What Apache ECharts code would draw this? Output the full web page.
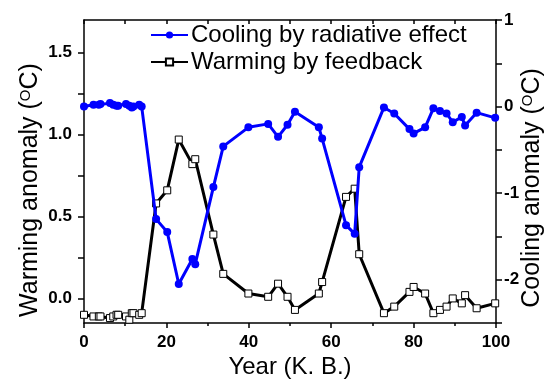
<!DOCTYPE html>
<html>
<head>
<meta charset="utf-8">
<script src="https://cdn.jsdelivr.net/npm/echarts@6/dist/echarts.min.js"></script>
<style>
  html, body { margin: 0; padding: 0; background: #fff; }
  #chart { width: 553px; height: 383px; }
</style>
</head>
<body>
<div id="chart"></div>
<script>
// shared x positions (K. B.)
const years = [0, 2.3, 3.6, 4.0, 6.3, 7.1, 7.9, 8.3, 10.2, 11.0, 11.6, 12.0, 13.4, 14.0,
  17.5, 20.2, 23.0, 26.3, 27.0, 31.4, 33.8, 39.9, 44.7, 47.1, 49.4, 51.2, 57.0, 57.8,
  63.6, 65.7, 66.8, 72.8, 75.3, 79.0, 80.0, 82.8, 84.8, 86.4, 88.0, 89.5, 91.7, 92.5, 95.3, 99.8];

// right axis
const cooling = [0.00, 0.02, 0.02, 0.03, 0.04, 0.02, 0.01, 0.01, 0.03, 0.01, -0.01, 0.00, 0.02, 0.00,
  -1.30, -1.45, -2.05, -1.76, -1.82, -0.93, -0.46, -0.24, -0.20, -0.35, -0.21, -0.06, -0.24, -0.37,
  -1.37, -1.47, -0.70, -0.01, -0.08, -0.26, -0.31, -0.24, -0.02, -0.05, -0.08, -0.18, -0.12, -0.22, -0.07, -0.13];

// left axis
const warming = [-0.10, -0.11, -0.11, -0.11, -0.12, -0.11, -0.10, -0.10, -0.11, -0.13, -0.09, -0.09, -0.10, -0.09,
  0.58, 0.66, 0.97, 0.82, 0.85, 0.39, 0.15, 0.03, 0.01, 0.09, 0.01, -0.07, 0.03, 0.10,
  0.62, 0.67, 0.27, -0.09, -0.05, 0.04, 0.07, 0.03, -0.09, -0.07, -0.05, 0.00, -0.03, 0.02, -0.06, -0.03];

const warmTicks = [0, 0.25, 0.5, 0.75, 1.0, 1.25, 1.5];
const warmLabels = [0, 0.5, 1.0, 1.5];
const coolTicks = [-2.5, -2, -1.5, -1, -0.5, 0, 0.5, 1];
const coolLabels = [-2, -1, 0, 1];

const font = 'Liberation Sans, Arial, sans-serif';
const tickFont = { fontFamily: font, fontSize: 17, fontWeight: 'bold', color: '#000' };
const nameRich = {
  n: { fontFamily: font, fontSize: 25, color: '#000' },
  s: { fontFamily: font, fontSize: 15, color: '#000', verticalAlign: 'top', lineHeight: 25 }
};
const axisLine = { show: true, onZero: false, lineStyle: { color: '#000', width: 1.5 } };

const chart = echarts.init(document.getElementById('chart'));
chart.setOption({
  animation: false,
  backgroundColor: '#fff',
  grid: { left: 84, right: 57, top: 20, bottom: 60, outerBoundsMode: 'none' },
  legend: {
    orient: 'vertical',
    left: 145,
    top: 18,
    itemWidth: 37,
    itemHeight: 9,
    itemGap: 3,
    textStyle: { fontFamily: font, fontSize: 24, color: '#000', padding: [0, 0, 0, -2] },
    data: ['Cooling by radiative effect', 'Warming by feedback']
  },
  xAxis: [{
    type: 'value', min: 0, max: 100, interval: 20,
    name: 'Year (K. B.)', nameLocation: 'middle', nameGap: 32, nameMoveOverlap: false,
    nameTextStyle: { fontFamily: font, fontSize: 24, color: '#000' },
    axisLine: axisLine,
    axisTick: { show: true, length: 5, lineStyle: { color: '#000', width: 1.5 } },
    minorTick: { show: true, splitNumber: 2, length: 3, lineStyle: { color: '#000', width: 1.5 } },
    axisLabel: Object.assign({ margin: 11 }, tickFont),
    splitLine: { show: false }
  }, {
    type: 'value', min: 0, max: 100, interval: 10, position: 'top',
    axisLine: axisLine,
    axisTick: { show: true, inside: true, length: 4, lineStyle: { color: '#000', width: 1.5 } },
    axisLabel: { show: false },
    splitLine: { show: false }
  }],
  yAxis: [{
    type: 'value', min: -0.15, max: 1.7, position: 'left',
    name: '{n|Warming anomaly (}{s|O}{n|C)}', nameLocation: 'middle', nameGap: 41, nameMoveOverlap: false,
    nameTextStyle: { rich: nameRich, padding: [0, 37, 0, 0] },
    axisLine: axisLine,
    axisTick: { show: true, length: 6, customValues: warmTicks, lineStyle: { color: '#000', width: 1.5 } },
    axisLabel: Object.assign({ margin: 12, customValues: warmLabels, formatter: v => v.toFixed(1) }, tickFont),
    splitLine: { show: false }
  }, {
    type: 'value', min: -2.5, max: 1, position: 'right',
    name: '{n|Cooling anomaly (}{s|O}{n|C)}', nameLocation: 'middle', nameGap: 24, nameMoveOverlap: false,
    nameTextStyle: { rich: nameRich, padding: [0, 33, 0, 0] },
    axisLine: axisLine,
    axisTick: { show: true, length: 6, customValues: coolTicks, lineStyle: { color: '#000', width: 1.5 } },
    axisLabel: Object.assign({ margin: 8, customValues: coolLabels }, tickFont),
    splitLine: { show: false }
  }],
  series: [{
    name: 'Warming by feedback',
    type: 'line', xAxisIndex: 0, yAxisIndex: 0, z: 2,
    data: years.map((x, i) => [x, warming[i]]),
    symbol: 'rect', symbolSize: 7, showAllSymbol: true,
    lineStyle: { color: '#000', width: 3 },
    itemStyle: { color: '#fff', borderColor: '#000', borderWidth: 1 }
  }, {
    name: 'Cooling by radiative effect',
    type: 'line', xAxisIndex: 0, yAxisIndex: 1, z: 3,
    data: years.map((x, i) => [x, cooling[i]]),
    symbol: 'circle', symbolSize: 8, showAllSymbol: true,
    lineStyle: { color: '#0000ff', width: 3 },
    itemStyle: { color: '#0000ff' }
  }]
});
</script>
</body>
</html>
